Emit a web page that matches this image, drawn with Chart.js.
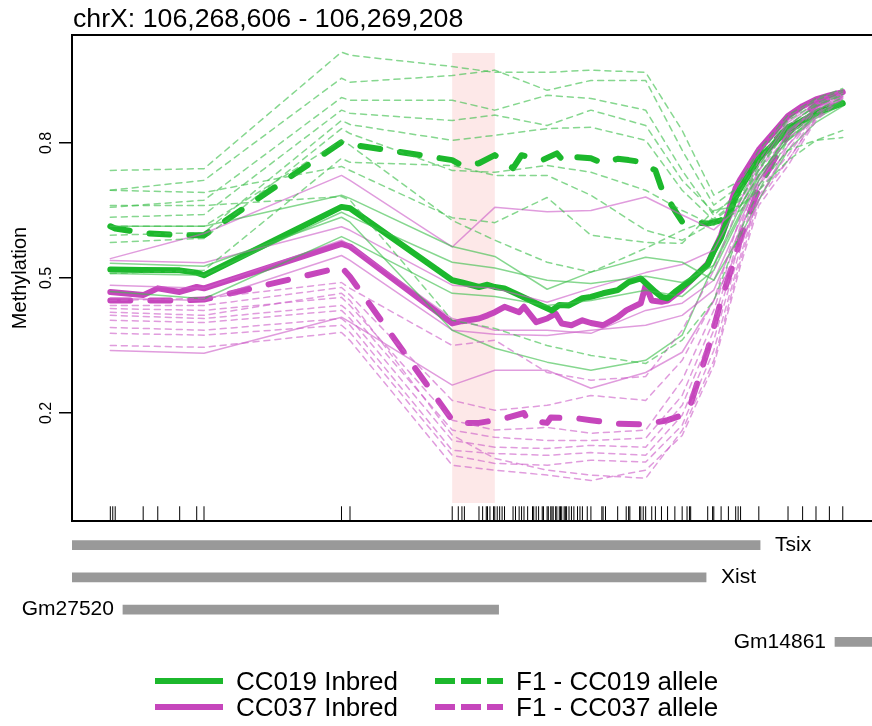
<!DOCTYPE html>
<html>
<head>
<meta charset="utf-8">
<script src="https://cdn.jsdelivr.net/npm/chart.js@4.4.0/dist/chart.umd.min.js"></script>
<style>
  html, body { margin: 0; padding: 0; background: #fff; }
  #wrap { position: relative; width: 872px; height: 726px; overflow: hidden; }
  #methChart { position: absolute; left: 0; top: 0; }
  #geneChart { position: absolute; left: 0; top: 520px; }
  #legend { position: absolute; left: 0; top: 0; width: 872px; height: 726px; pointer-events: none;
            font-family: 'Liberation Sans', Arial, Helvetica, sans-serif; font-size: 26px; color: #000; }
  .lg { position: absolute; white-space: nowrap; line-height: 26px; }
</style>
</head>
<body>
<div id="wrap">
  <canvas id="methChart" width="890" height="530"></canvas>
  <canvas id="geneChart" width="890" height="145"></canvas>
  <div id="legend"></div>
</div>
<script>
const FONT = "'Liberation Sans', Arial, Helvetica, sans-serif";
const regionStart = 106268606;   // chrX position of the first CpG
const titleText = 'chrX: 106,268,606 - 106,269,208';
const xMinOff = -31.5, xMaxOff = 634;
const yTicks = [0.2, 0.5, 0.8];
const highlight = [281, 316];     // shaded window (bp offsets)

// CpG sites (bp offset from regionStart) -> rug
const cpgOffsets = [0, 2, 4, 27, 39, 57, 71, 77, 190, 197, 281, 286, 289, 291, 303, 306, 309, 310, 312, 315,
  316, 318, 320, 322, 324, 331, 333, 336, 338, 340, 343, 347, 348, 350, 352, 355, 356, 359, 360, 362, 363,
  364, 366, 367, 369, 370, 371, 373, 374, 375, 377, 379, 381, 384, 386, 388, 392, 395, 404, 405, 407, 417,
  424, 426, 427, 435, 436, 438, 440, 445, 448, 453, 458, 464, 470, 474, 476, 477, 491, 495, 496, 502, 508,
  514, 516, 518, 533, 557, 569, 580, 591, 602];

// positions used by the individual-sample curves
const samplePos = [0, 77, 190, 197, 281, 316, 359, 395, 440, 470, 496, 518, 533, 557, 580, 602];

// CC019 inbred individuals
const cc019Samples = [
  [0.615, 0.615, 0.684, 0.677, 0.570, 0.548, 0.475, 0.513, 0.546, 0.535, 0.495, 0.595, 0.673, 0.784, 0.846, 0.882],
  [0.533, 0.526, 0.635, 0.624, 0.384, 0.344, 0.313, 0.295, 0.317, 0.373, 0.530, 0.660, 0.730, 0.806, 0.855, 0.886],
  [0.470, 0.454, 0.592, 0.583, 0.466, 0.459, 0.439, 0.450, 0.473, 0.459, 0.517, 0.639, 0.717, 0.810, 0.859, 0.890],
  [0.510, 0.506, 0.646, 0.637, 0.535, 0.522, 0.495, 0.488, 0.504, 0.490, 0.528, 0.646, 0.726, 0.817, 0.864, 0.895]
];
// CC037 inbred individuals
const cc037Samples = [
  [0.543, 0.599, 0.728, 0.717, 0.569, 0.657, 0.647, 0.650, 0.680, 0.640, 0.607, 0.661, 0.739, 0.839, 0.884, 0.906],
  [0.539, 0.534, 0.614, 0.606, 0.484, 0.477, 0.446, 0.477, 0.512, 0.530, 0.562, 0.673, 0.750, 0.846, 0.888, 0.910],
  [0.484, 0.477, 0.584, 0.573, 0.410, 0.384, 0.384, 0.377, 0.428, 0.444, 0.495, 0.628, 0.717, 0.828, 0.877, 0.904],
  [0.455, 0.450, 0.550, 0.539, 0.384, 0.375, 0.372, 0.384, 0.395, 0.417, 0.473, 0.610, 0.706, 0.824, 0.873, 0.901],
  [0.339, 0.333, 0.413, 0.402, 0.262, 0.295, 0.295, 0.255, 0.290, 0.335, 0.450, 0.573, 0.673, 0.795, 0.862, 0.899]
];
// F1 animals, CC019 allele
const f1cc019Samples = [
  [0.739, 0.743, 1.002, 0.995, 0.970, 0.957, 0.957, 0.962, 0.957, 0.828, 0.684, 0.717, 0.784, 0.862, 0.899, 0.921],
  [0.695, 0.717, 0.944, 0.935, 0.950, 0.962, 0.917, 0.939, 0.939, 0.784, 0.662, 0.706, 0.773, 0.855, 0.895, 0.917],
  [0.657, 0.673, 0.901, 0.895, 0.895, 0.873, 0.906, 0.899, 0.873, 0.739, 0.639, 0.695, 0.761, 0.850, 0.888, 0.913],
  [0.635, 0.641, 0.873, 0.866, 0.850, 0.862, 0.839, 0.873, 0.839, 0.717, 0.646, 0.684, 0.750, 0.839, 0.882, 0.906],
  [0.595, 0.601, 0.850, 0.841, 0.806, 0.817, 0.832, 0.835, 0.806, 0.695, 0.628, 0.673, 0.739, 0.832, 0.873, 0.901],
  [0.579, 0.588, 0.832, 0.821, 0.739, 0.735, 0.750, 0.735, 0.695, 0.650, 0.617, 0.661, 0.728, 0.817, 0.862, 0.895],
  [0.510, 0.517, 0.766, 0.757, 0.750, 0.728, 0.728, 0.684, 0.606, 0.584, 0.623, 0.650, 0.706, 0.784, 0.806, 0.812],
  [0.695, 0.690, 0.748, 0.739, 0.634, 0.623, 0.679, 0.595, 0.579, 0.577, 0.650, 0.661, 0.695, 0.761, 0.806, 0.828],
  [0.661, 0.661, 0.681, 0.673, 0.406, 0.388, 0.350, 0.328, 0.310, 0.362, 0.450, 0.606, 0.695, 0.806, 0.862, 0.895],
  [0.615, 0.615, 0.806, 0.795, 0.628, 0.584, 0.535, 0.513, 0.566, 0.606, 0.632, 0.677, 0.743, 0.839, 0.884, 0.908]
];
// F1 animals, CC037 allele
const f1cc037Samples = [
  [0.450, 0.455, 0.490, 0.477, 0.350, 0.362, 0.290, 0.273, 0.281, 0.384, 0.517, 0.673, 0.762, 0.850, 0.895, 0.917],
  [0.439, 0.439, 0.479, 0.462, 0.228, 0.206, 0.217, 0.239, 0.228, 0.317, 0.450, 0.639, 0.739, 0.817, 0.884, 0.913],
  [0.432, 0.428, 0.457, 0.439, 0.184, 0.162, 0.168, 0.155, 0.162, 0.273, 0.428, 0.617, 0.728, 0.806, 0.877, 0.910],
  [0.417, 0.410, 0.439, 0.424, 0.162, 0.146, 0.139, 0.139, 0.144, 0.239, 0.406, 0.602, 0.717, 0.795, 0.873, 0.908],
  [0.406, 0.401, 0.428, 0.410, 0.139, 0.124, 0.121, 0.128, 0.124, 0.217, 0.384, 0.584, 0.706, 0.784, 0.866, 0.906],
  [0.390, 0.384, 0.410, 0.395, 0.117, 0.110, 0.106, 0.112, 0.106, 0.195, 0.362, 0.566, 0.695, 0.773, 0.862, 0.904],
  [0.377, 0.373, 0.395, 0.379, 0.106, 0.088, 0.084, 0.095, 0.091, 0.173, 0.339, 0.550, 0.684, 0.761, 0.855, 0.901],
  [0.350, 0.346, 0.379, 0.361, 0.084, 0.073, 0.062, 0.050, 0.073, 0.150, 0.306, 0.528, 0.661, 0.750, 0.850, 0.899],
  [0.424, 0.417, 0.466, 0.450, 0.151, 0.099, 0.073, 0.062, 0.055, 0.161, 0.317, 0.539, 0.673, 0.761, 0.857, 0.904]
];

// group means (thick lines)
const cc019MeanPos = [0, 27, 57, 71, 77, 190, 197, 281, 289, 303, 310, 316, 324, 336, 350, 363, 369, 377, 388, 395,
  405, 417, 426, 436, 448, 453, 458, 464, 477, 491, 496, 502, 514, 518, 533, 557, 569, 580, 591, 602];
const cc019MeanVal = [0.519, 0.518, 0.517, 0.512, 0.506, 0.658, 0.655, 0.495, 0.490, 0.480, 0.485, 0.480, 0.477, 0.462,
  0.444, 0.428, 0.440, 0.439, 0.455, 0.458, 0.466, 0.473, 0.491, 0.499, 0.469, 0.458, 0.455, 0.469, 0.495, 0.530,
  0.560, 0.590, 0.680, 0.700, 0.765, 0.830, 0.850, 0.866, 0.878, 0.888];

const cc037MeanPos = [0, 27, 39, 57, 71, 77, 190, 197, 281, 289, 303, 310, 316, 324, 336, 340, 350, 359, 366, 371,
  379, 388, 395, 405, 417, 424, 436, 440, 445, 453, 458, 470, 491, 502, 514, 518, 533, 557, 569, 580, 591, 602];
const cc037MeanVal = [0.469, 0.462, 0.477, 0.469, 0.480, 0.477, 0.576, 0.570, 0.399, 0.404, 0.410, 0.417, 0.424, 0.436,
  0.424, 0.436, 0.402, 0.410, 0.421, 0.399, 0.395, 0.406, 0.400, 0.395, 0.413, 0.428, 0.444, 0.484, 0.450, 0.447,
  0.450, 0.475, 0.532, 0.595, 0.700, 0.720, 0.785, 0.860, 0.882, 0.897, 0.906, 0.913];

const f1cc019MeanPos = [0, 4, 27, 57, 77, 190, 197, 281, 289, 303, 316, 331, 338, 355, 367, 373, 381, 395, 405, 417,
  426, 436, 448, 453, 464, 470, 491, 502, 514, 518, 533, 557, 569, 580, 591, 602];
const f1cc019MeanVal = [0.615, 0.610, 0.600, 0.595, 0.595, 0.802, 0.797, 0.762, 0.750, 0.755, 0.773, 0.744, 0.773,
  0.762, 0.777, 0.758, 0.769, 0.766, 0.755, 0.765, 0.762, 0.758, 0.739, 0.700, 0.650, 0.625, 0.621, 0.628, 0.680,
  0.710, 0.770, 0.835, 0.850, 0.868, 0.880, 0.891];

const f1cc037MeanPos = [0, 27, 57, 77, 190, 197, 281, 289, 303, 316, 324, 340, 343, 359, 362, 384, 395, 417, 440,
  458, 470, 477, 491, 502, 514, 518, 533, 557, 569, 580, 591, 602];
const f1cc037MeanVal = [0.450, 0.450, 0.450, 0.452, 0.524, 0.503, 0.184, 0.178, 0.178, 0.184, 0.188, 0.200, 0.184,
  0.178, 0.190, 0.188, 0.184, 0.176, 0.175, 0.184, 0.195, 0.220, 0.340, 0.450, 0.550, 0.590, 0.700, 0.820, 0.860,
  0.885, 0.900, 0.910];

// gene track
const geneNames = ['Tsix', 'Xist', 'Gm27520', 'Gm14861'];
const geneStartOff = [-250, -250, 10, 590];
const geneEndOff = [529, 485, 316, 800];
const geneLabelSide = ['right', 'right', 'left', 'left'];

const legendLabels = ['CC019 Inbred', 'CC037 Inbred', 'F1 - CC019 allele', 'F1 - CC037 allele'];

const green = 'rgb(28,184,44)';
const magenta = 'rgb(198,70,188)';
const greenThin = 'rgba(60,190,75,0.62)';
const magentaThin = 'rgba(205,95,200,0.62)';

function pts(pos, vals) {
  return pos.map((p, i) => ({x: regionStart + p, y: vals[i]}));
}

var datasets = [];
f1cc019Samples.forEach(v => datasets.push({data: pts(samplePos, v), borderColor: greenThin, borderWidth: 1.5, borderDash: [6, 5]}));
f1cc037Samples.forEach(v => datasets.push({data: pts(samplePos, v), borderColor: magentaThin, borderWidth: 1.5, borderDash: [6, 5]}));
cc019Samples.forEach(v => datasets.push({data: pts(samplePos, v), borderColor: greenThin, borderWidth: 1.5}));
cc037Samples.forEach(v => datasets.push({data: pts(samplePos, v), borderColor: magentaThin, borderWidth: 1.5}));
datasets.push({label: legendLabels[0], data: pts(cc019MeanPos, cc019MeanVal), borderColor: green, borderWidth: 6});
datasets.push({label: legendLabels[1], data: pts(cc037MeanPos, cc037MeanVal), borderColor: magenta, borderWidth: 6});
datasets.push({label: legendLabels[2], data: pts(f1cc019MeanPos, f1cc019MeanVal), borderColor: green, borderWidth: 6, borderDash: [20, 20]});
datasets.push({label: legendLabels[3], data: pts(f1cc037MeanPos, f1cc037MeanVal), borderColor: magenta, borderWidth: 6, borderDash: [20, 20]});
datasets.forEach(d => {
  d.pointRadius = 0; d.tension = 0; d.fill = false;
  d.borderCapStyle = 'round'; d.borderJoinStyle = 'round';
});
// rug of CpG sites along the bottom
datasets.push({
  data: cpgOffsets.map(p => ({x: regionStart + p, y: -0.0235})),
  showLine: false, pointStyle: 'line', pointRotation: 90, pointRadius: 7.3,
  pointBorderColor: '#000', pointBorderWidth: 1, borderColor: '#000'
});

const methPlugin = {
  id: 'methFrame',
  beforeDatasetsDraw(chart) {
    const {ctx, scales: {x, y}} = chart;
    const x0 = x.getPixelForValue(regionStart + highlight[0]);
    const x1 = x.getPixelForValue(regionStart + highlight[1]);
    const y0 = y.getPixelForValue(1), y1 = y.getPixelForValue(0);
    ctx.save();
    ctx.fillStyle = 'rgb(253,232,232)';
    ctx.fillRect(x0, y0, x1 - x0, y1 - y0);
    ctx.restore();
  },
  afterDraw(chart) {
    const {ctx, chartArea: a, scales: {y}} = chart;
    ctx.save();
    ctx.strokeStyle = '#000';
    ctx.lineWidth = 2;
    ctx.strokeRect(a.left, a.top, a.right - a.left, a.bottom - a.top);
    // rotated tick labels like base R
    ctx.fillStyle = '#000';
    ctx.font = '16px ' + FONT;
    ctx.textAlign = 'center';
    ctx.textBaseline = 'middle';
    yTicks.forEach(t => {
      ctx.save();
      ctx.translate(47, y.getPixelForValue(t));
      ctx.rotate(-Math.PI / 2);
      ctx.fillText(String(t), 0, 0);
      ctx.restore();
    });
    ctx.font = '26.7px ' + FONT;
    ctx.textAlign = 'left';
    ctx.textBaseline = 'alphabetic';
    ctx.fillText(titleText, 73, 27);
    ctx.restore();
  }
};

new Chart(document.getElementById('methChart').getContext('2d'), {
  type: 'line',
  data: {datasets: datasets},
  options: {
    responsive: false,
    animation: false,
    layout: {padding: {top: 35, bottom: 9, left: 0, right: 1}},
    plugins: {legend: {display: false}, tooltip: {enabled: false}},
    scales: {
      x: {type: 'linear', min: regionStart + xMinOff, max: regionStart + xMaxOff, display: false},
      y: {
        min: -0.04, max: 1.04,
        afterFit(s) { s.width = 72; },
        afterBuildTicks(s) { s.ticks = yTicks.map(v => ({value: v})); },
        border: {display: false},
        grid: {drawOnChartArea: false, drawTicks: true, tickLength: 13, color: '#000', lineWidth: 1.5},
        ticks: {display: false},
        title: {display: true, text: 'Methylation', color: '#000', font: {size: 20, family: FONT}, padding: {top: 8, bottom: 0}}
      }
    }
  },
  plugins: [methPlugin]
});

// gene annotation track
const geneLabelPlugin = {
  id: 'geneLabels',
  afterDatasetsDraw(chart) {
    const {ctx, scales: {x, y}} = chart;
    ctx.save();
    ctx.font = '21px ' + FONT;
    ctx.fillStyle = '#000';
    ctx.textBaseline = 'middle';
    geneNames.forEach((g, i) => {
      const py = y.getPixelForValue(i);
      if (geneLabelSide[i] === 'right') {
        ctx.textAlign = 'left';
        ctx.fillText(g, x.getPixelForValue(regionStart + geneEndOff[i]) + 15, py);
      } else {
        ctx.textAlign = 'right';
        ctx.fillText(g, x.getPixelForValue(regionStart + geneStartOff[i]) - 9, py);
      }
    });
    ctx.restore();
  }
};

new Chart(document.getElementById('geneChart').getContext('2d'), {
  type: 'bar',
  data: {
    labels: geneNames,
    datasets: [{
      data: geneNames.map((g, i) => [regionStart + geneStartOff[i], regionStart + geneEndOff[i]]),
      backgroundColor: 'rgb(153,153,153)',
      barThickness: 9
    }]
  },
  options: {
    indexAxis: 'y',
    responsive: false,
    animation: false,
    layout: {padding: {top: 9, bottom: 7, left: 72, right: 1}},
    plugins: {legend: {display: false}, tooltip: {enabled: false}},
    scales: {
      x: {type: 'linear', min: regionStart + xMinOff, max: regionStart + xMaxOff, display: false},
      y: {display: false}
    }
  },
  plugins: [geneLabelPlugin]
});

// legend (base-R style, two columns)
const legendColors = [green, magenta, green, magenta];
const legendDashed = [false, false, true, true];
const legendCol = [155, 155, 435, 435];
const legendRow = [681, 707, 681, 707];
const lg = document.getElementById('legend');
legendLabels.forEach((lab, i) => {
  const d = document.createElement('div');
  d.className = 'lg';
  d.style.left = legendCol[i] + 'px';
  d.style.top = (legendRow[i] - 13) + 'px';
  const dash = legendDashed[i] ? ' stroke-dasharray="20 6"' : '';
  d.innerHTML = '<svg width="70" height="26" style="vertical-align:top"><line x1="0" y1="13" x2="68" y2="13" stroke="' +
    legendColors[i] + '" stroke-width="6"' + dash + '/></svg><span style="margin-left:11px;vertical-align:top">' + lab + '</span>';
  lg.appendChild(d);
});
</script>
</body>
</html>
